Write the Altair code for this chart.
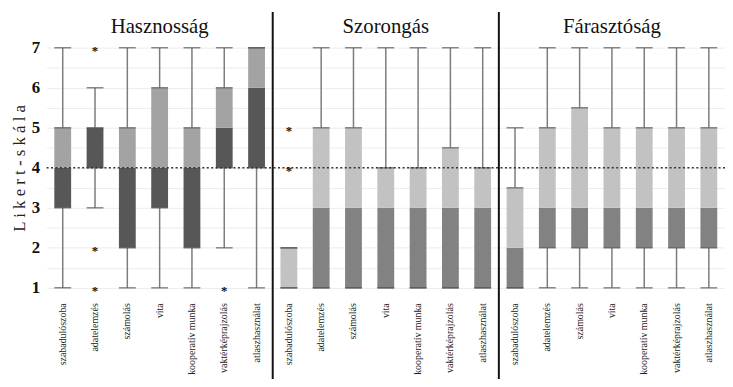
import altair as alt
import pandas as pd

categories = ["szabadulószoba", "adatelemzés", "számolás", "vita",
              "kooperatív munka", "vaktérképrajzolás", "atlaszhasználat"]
panels = ["Hasznosság", "Szorongás", "Fárasztóság"]

mins = {
    "Hasznosság": [1, 3, 1, 1, 1, 2, 1],
    "Szorongás": [1, 1, 1, 1, 1, 1, 1],
    "Fárasztóság": [1, 1, 1, 1, 1, 1, 1],
}
q1s = {
    "Hasznosság": [3, 4, 2, 3, 2, 4, 4],
    "Szorongás": [1, 1, 1, 1, 1, 1, 1],
    "Fárasztóság": [1, 2, 2, 2, 2, 2, 2],
}
medians = {
    "Hasznosság": [4, 5, 4, 4, 4, 5, 6],
    "Szorongás": [1, 3, 3, 3, 3, 3, 3],
    "Fárasztóság": [2, 3, 3, 3, 3, 3, 3],
}
q3s = {
    "Hasznosság": [5, 5, 5, 6, 5, 6, 7],
    "Szorongás": [2, 5, 5, 4, 4, 4.5, 4],
    "Fárasztóság": [3.5, 5, 5.5, 5, 5, 5, 5],
}
maxs = {
    "Hasznosság": [7, 6, 7, 7, 7, 7, 7],
    "Szorongás": [2, 7, 7, 7, 7, 7, 7],
    "Fárasztóság": [5, 7, 7, 7, 7, 7, 7],
}
outlier_panel = ["Hasznosság", "Hasznosság", "Hasznosság", "Hasznosság", "Szorongás", "Szorongás"]
outlier_cat = ["adatelemzés", "adatelemzés", "adatelemzés", "vaktérképrajzolás", "szabadulószoba", "szabadulószoba"]
outlier_val = [7, 2, 1, 1, 5, 4]

dark_colors = {"Hasznosság": "#575757", "Szorongás": "#828282", "Fárasztóság": "#828282"}
light_colors = {"Hasznosság": "#a3a3a3", "Szorongás": "#c2c2c2", "Fárasztóság": "#c2c2c2"}

FONT = "Liberation Serif"
W, H = 686, 263
BOX = 17

rows = []
keys = []
for p in panels:
    for i, c in enumerate(categories):
        k = p + "|" + c
        keys.append(k)
        rows.append(dict(key=k, panel=p, mn=mins[p][i], q1=q1s[p][i], med=medians[p][i],
                         q3=q3s[p][i], mx=maxs[p][i], dark=dark_colors[p], light=light_colors[p]))
df = pd.DataFrame(rows)
out_df = pd.DataFrame({"key": [p + "|" + c for p, c in zip(outlier_panel, outlier_cat)],
                       "v": outlier_val})
title_df = pd.DataFrame({"key": [p + "|" + categories[3] for p in panels], "panel": panels})
sep_df = pd.DataFrame({"key": [p + "|" + categories[0] for p in panels[1:]]})
ref_df = pd.DataFrame({"y": [4]})

grid_vals = [1 + 0.5 * i for i in range(13)]
yscale = alt.Scale(domain=[0.75, 7.25], nice=False, zero=False)
xscale = alt.Scale(domain=keys, paddingInner=0, paddingOuter=0)
xaxis = alt.Axis(title=None, labelAngle=-90, labelExpr="split(datum.label, '|')[1]",
                 labelFont=FONT, labelFontSize=10, labelColor="#222222",
                 labelPadding=5, domain=False, ticks=False, grid=False)


def X(**kw):
    return alt.X("key:N", sort=keys, scale=xscale, axis=xaxis, **kw)


yaxis = alt.Axis(values=grid_vals, labelExpr="datum.value % 1 == 0 ? format(datum.value, 'd') : ''",
                 title="L i k e r t - s k á l a", titleFont=FONT, titleFontSize=17,
                 titleFontWeight="normal", titleColor="#222222", titlePadding=3,
                 labelFont=FONT, labelFontSize=17, labelFontWeight="bold", labelColor="#111111",
                 labelPadding=7, domain=False, ticks=False, grid=True,
                 gridColor="#ececec", gridWidth=1)


def Y(f):
    return alt.Y(f, scale=yscale, axis=yaxis)


base = alt.Chart(df)
whisk_lo = base.mark_rule(color="#7c7c7c", strokeWidth=1.5).encode(x=X(), y=Y("mn:Q"), y2="q1:Q")
whisk_hi = base.mark_rule(color="#7c7c7c", strokeWidth=1.5).encode(x=X(), y=Y("q3:Q"), y2="mx:Q")
box_lo = base.mark_bar(size=BOX).encode(x=X(), y=Y("q1:Q"), y2="med:Q",
                                        color=alt.Color("dark:N", scale=None))
box_hi = base.mark_bar(size=BOX).encode(x=X(), y=Y("med:Q"), y2="q3:Q",
                                        color=alt.Color("light:N", scale=None))
caps = []
for f in ["mn", "mx", "q1", "q3"]:
    caps.append(base.mark_tick(size=BOX, thickness=1.5, color="#555555").encode(
        x=X(), y=Y(f + ":Q")))

ref = alt.Chart(ref_df).mark_rule(color="#333333", strokeWidth=1.6, strokeDash=[2, 2.5]).encode(y=Y("y:Q"))

outs = alt.Chart(out_df).mark_text(text="*", fontSize=13, fontWeight="bold", dy=3,
                                    fill="#111111", font=FONT).encode(x=X(), y=Y("v:Q"))

titles = alt.Chart(title_df).mark_text(font=FONT, fontSize=21, fill="#111111", baseline="middle").encode(
    x=X(), y=alt.value(-11), text="panel:N")

seps = alt.Chart(sep_df).mark_rule(color="#111111", strokeWidth=2).encode(
    x=X(bandPosition=0), y=alt.value(-26), y2=alt.value(H + 90))

chart = alt.layer(whisk_lo, whisk_hi, box_lo, box_hi, *caps, ref, outs, titles, seps).properties(
    width=W, height=H, autosize=alt.AutoSizeParams(type="none"),
    padding={"left": 39, "top": 28, "right": 0, "bottom": 80}
).configure_view(stroke=None).configure_axis(labelFont=FONT, titleFont=FONT)

chart.save("out.html", embed_options={"renderer": "svg", "actions": False})
